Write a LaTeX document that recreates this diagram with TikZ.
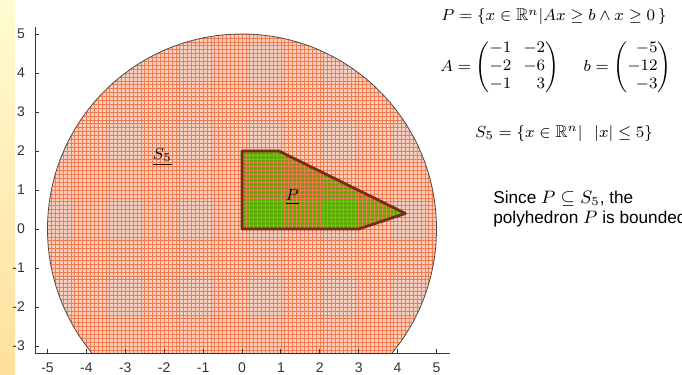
\documentclass[tikz,border=0pt]{standalone}
\usepackage{amsmath,amssymb}
\usepackage{fontspec}
\newfontfamily\arialfont{Liberation Sans}
\usepackage{tikz}
\definecolor{meshfill}{HTML}{F9D0C0}
\definecolor{meshline}{HTML}{EE7C50}
\definecolor{polyfill}{HTML}{5AAA00}
\definecolor{polyedge}{HTML}{7A2C10}
\definecolor{stripetop}{HTML}{FFFBD2}
\definecolor{stripebot}{HTML}{FFE09C}

\begin{document}
\begin{tikzpicture}[x=19.45pt,y=19.5pt,
        axis/.style={black!80,line width=0.5pt},
        ticklbl/.style={font=\arialfont\fontsize{7}{8}\selectfont,text=black!80},
        lbl/.style={font=\fontsize{8.5}{10}\selectfont},
        note/.style={font=\arialfont\fontsize{8.6}{10}\selectfont,align=left,inner sep=0pt}]
      \useasboundingbox (-6.221,-3.718) rectangle (11.311,5.872);
      \clip (-6.221,-3.718) rectangle (11.311,5.872);
      \shade[top color=stripetop,bottom color=stripebot] (-6.221,-3.718) rectangle (-5.835,5.872);
      % disk S5 with its mesh, cut at the lower axis
      \begin{scope}
        \clip (-5.32,-3.18) rectangle (5.35,5.18);
        \fill[meshfill] (0,0) circle (5);
        \fill[polyfill] (0,0) -- (0,2) -- (0.95,2) -- (4.2,0.4) -- (3,0) -- cycle;
        \begin{scope}
          \clip (0,0) circle (5);
          \draw[meshline,line width=0.3pt,step=0.1] (-5,-3.2) grid (5,5);
        \end{scope}
        \draw[black!70,line width=0.4pt] (0,0) circle (5);
      \end{scope}
      \draw[polyedge,line width=1.4pt,line join=round] (0,0) -- (0,2) -- (0.95,2) -- (4.2,0.4) -- (3,0) -- cycle;
      % axes
      \draw[axis] (-5.32,5.18) -- (-5.32,-3.18) -- (5.35,-3.18);
      \foreach \i in {-5,...,5} {
        \draw[axis] (\i,-3.18) -- ++(0,0.1);
        \node[ticklbl] (xt\i) at (\i,-3.56) {\i};
      }
      \foreach \j in {-3,...,5} {
        \draw[axis] (-5.32,\j) -- ++(0.1,0);
        \node[ticklbl,anchor=east] (yt\j) at (-5.4,\j) {\j};
      }
      \node[lbl] (s5) at (-2.05,1.85) {\underline{$S_5$}};
      \node[lbl] (p) at (1.29,0.82) {\underline{$P$}};
      % definitions
      \node[lbl] (pset) at (8.02,5.44) {$P=\{x\in\mathbb{R}^n|Ax\geq b\wedge x\geq 0\,\}$};
      \node[lbl] (mats) at (8.07,4.15) {\arraycolsep=3pt\renewcommand{\arraystretch}{0.9}%
        $A=\left(\begin{array}{@{}rr@{}}-1&-2\\-2&-6\\-1&3\end{array}\right)\quad\; b=\left(\begin{array}{@{}r@{}}-5\\-12\\-3\end{array}\right)$};
      \node[lbl] (s5set) at (8.28,2.46) {$S_5=\{x\in\mathbb{R}^n|\ \ |x|\leq 5\}$};
      \node[note,anchor=north west] (since) at (6.45,0.98) {Since $P\subseteq S_5$, the\\polyhedron $P$ is bounded.};
    \end{tikzpicture}
\end{document}
